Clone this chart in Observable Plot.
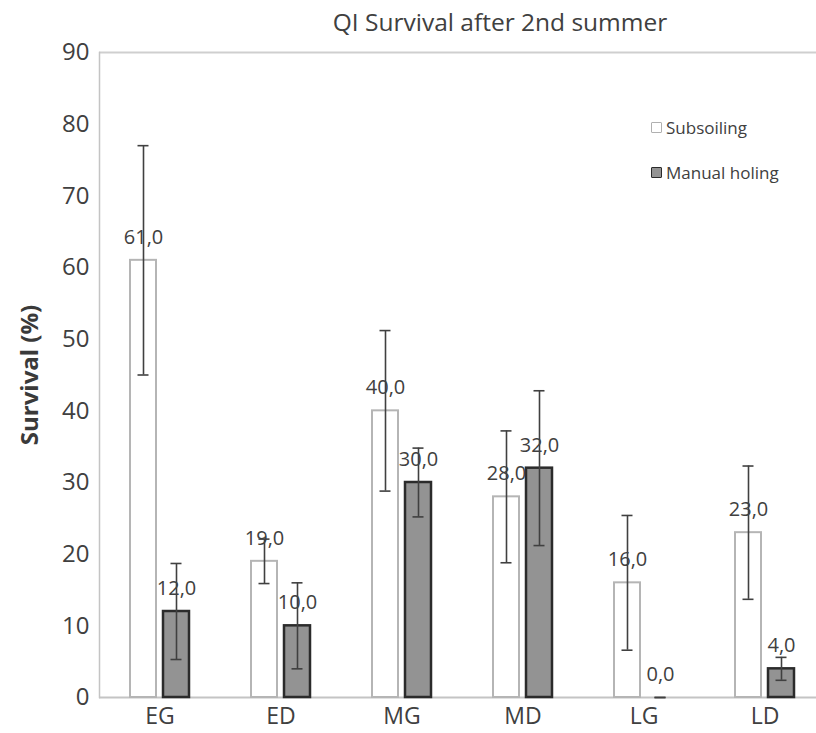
<!DOCTYPE html>
<html>
<head>
<meta charset="utf-8">
<script src="https://cdn.jsdelivr.net/npm/d3@7"></script>
<script src="https://cdn.jsdelivr.net/npm/@observablehq/plot@0.6"></script>
<style>
  body { margin: 0; background: #fff; font-family: "Open Sans", sans-serif; color: #404040; }
  #page { position: relative; width: 816px; height: 733px; overflow: hidden; }
  #title { position: absolute; left: 500px; top: 22px; transform: translate(-50%, -50%); font-size: 24.5px; white-space: nowrap; line-height: 1; }
  #ylabel { position: absolute; left: 29px; top: 375px; transform: translate(-50%, -50%) rotate(-90deg); font-size: 24px; font-weight: bold; white-space: nowrap; color: #3a3a3a; line-height: 1; }
  .legend-item { position: absolute; left: 651px; display: flex; align-items: center; font-size: 17px; white-space: nowrap; line-height: 1; }
  .legend-item i { display: inline-block; width: 9px; height: 9px; margin-right: 4px; border-radius: 1px; }
  #chart svg { display: block; }
</style>
</head>
<body>
<div id="page">
  <div id="chart"></div>
  <div id="title">QI Survival after 2nd summer</div>
  <div id="ylabel">Survival (%)</div>
  <div class="legend-item" style="top:119px"><i style="background:#fff;border:1.5px solid #b0b0b0"></i>Subsoiling</div>
  <div class="legend-item" style="top:164px"><i style="background:#939393;border:1.5px solid #2b2b2b"></i>Manual holing</div>
</div>
<script>
// Sites and treatments
const categories = ["EG", "ED", "MG", "MD", "LG", "LD"];
const series = ["Subsoiling", "Manual holing"];

// Mean survival (%) and error bar half-widths per treatment
const subsoiling = [61, 19, 40, 28, 16, 23];
const subsoilingErr = [16, 3.1, 11.2, 9.2, 9.4, 9.3];
const manualHoling = [12, 10, 30, 32, 0, 4];
const manualHolingErr = [6.7, 6, 4.8, 10.8, 0, 1.6];

const yTicks = [0, 10, 20, 30, 40, 50, 60, 70, 80, 90];

const rows = categories.flatMap((cat, i) => [
  {cat, series: series[0], value: subsoiling[i], err: subsoilingErr[i]},
  {cat, series: series[1], value: manualHoling[i], err: manualHolingErr[i]}
]);
const subRows = rows.filter(d => d.series === series[0]);
const manRows = rows.filter(d => d.series === series[1]);

const fmt = v => v.toFixed(1).replace(".", ",");
const errColor = "#404040";

const chart = Plot.plot({
  width: 816,
  height: 733,
  marginTop: 52,
  marginBottom: 36,
  marginLeft: 98,
  marginRight: 0,
  style: {fontFamily: "Open Sans, sans-serif", color: "#404040", background: "#fff"},
  fx: {domain: categories, range: [98, 826], padding: 0},
  x: {domain: series, paddingInner: 0.206, paddingOuter: 0.887, axis: null},
  y: {domain: [0, 90]},
  marks: [
    Plot.ruleY([90], {stroke: "#cfcfcf", strokeWidth: 2}),
    Plot.ruleY([0], {stroke: "#c4c4c4", strokeWidth: 2}),
    Plot.frame({anchor: "left", stroke: "#c4c4c4", strokeWidth: 1.5, facetAnchor: "left"}),
    Plot.barY(subRows, {fx: "cat", x: "series", y: "value", fill: "#fff", stroke: "#b5b5b5", strokeWidth: 2}),
    Plot.barY(manRows, {fx: "cat", x: "series", y: "value", fill: "#939393", stroke: "#2b2b2b", strokeWidth: 2.5}),
    Plot.ruleX(rows, {fx: "cat", x: "series", y1: d => d.value - d.err, y2: d => d.value + d.err, stroke: errColor, strokeWidth: 1.6}),
    Plot.tickY(rows, {fx: "cat", x: "series", y: d => d.value + d.err, inset: 7.5, stroke: errColor, strokeWidth: 1.6}),
    Plot.tickY(rows, {fx: "cat", x: "series", y: d => d.value - d.err, inset: 7.5, stroke: errColor, strokeWidth: 1.6}),
    Plot.text(rows, {fx: "cat", x: "series", y: "value", text: d => fmt(d.value), dy: -23, fontSize: 20, fill: "#404040"}),
    Plot.axisY(yTicks, {tickSize: 0, tickPadding: 10, fontSize: 24, fill: "#404040", label: null}),
    Plot.axisFx({anchor: "bottom", tickSize: 0, tickPadding: 10, fontSize: 23, fill: "#404040", label: null})
  ]
});
document.getElementById("chart").append(chart);
</script>
</body>
</html>
